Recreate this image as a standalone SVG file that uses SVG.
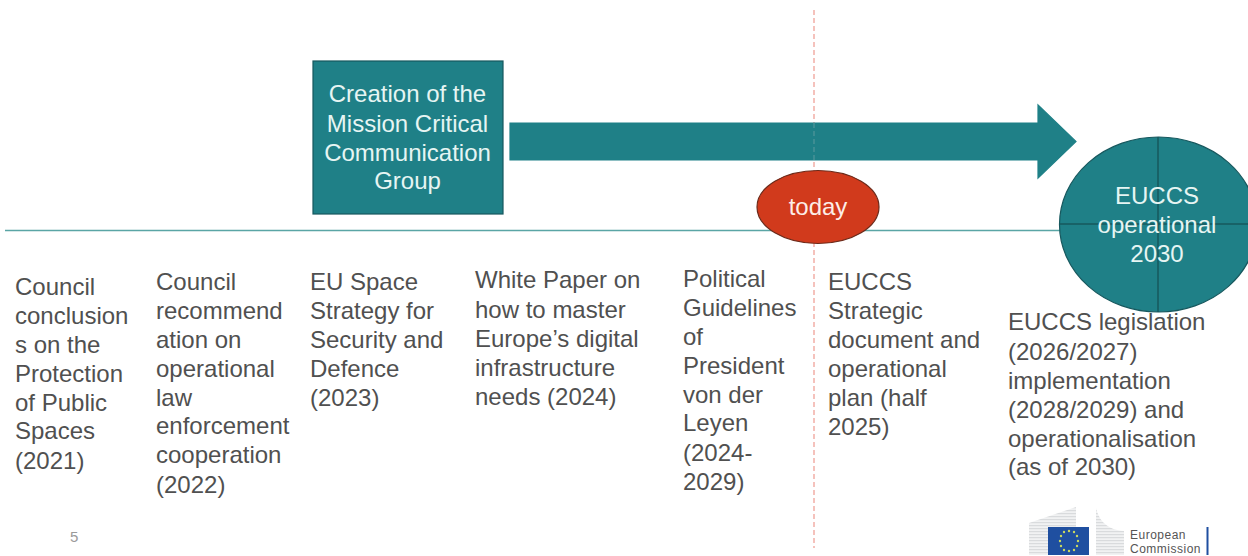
<svg xmlns="http://www.w3.org/2000/svg" width="1248" height="556" viewBox="0 0 1248 556">
<defs><pattern id="st" width="4" height="3" patternUnits="userSpaceOnUse"><rect width="4" height="3" fill="#f1f2f3"/><rect width="4" height="1.200" fill="#d9dbdd"/></pattern></defs>
<style>
text{font-family:"Liberation Sans",Arial,sans-serif}
.b{font-size:24px;fill:#505050}
.w{font-size:24px;fill:#e6f5f3;text-anchor:middle}
.t{fill:#1f8087;stroke:#17585e;stroke-width:1.2}
</style>
<rect width="1248" height="556" fill="#fff"/>
<g id="connectors">
<line x1="5" y1="230.500" x2="1060" y2="230.500" stroke="#5aa5a5" stroke-width="1.500"/>
<line x1="814" y1="10" x2="814" y2="548" stroke="#ee9a90" stroke-width="1.200" stroke-dasharray="5 3"/>
</g>
<g id="arrow"><path class="t" style="stroke:#1f8087" d="M510 123H1038V105L1076 141.500 1038 178V160H510Z"/></g>
<line x1="814" y1="123" x2="814" y2="160" stroke="#5d9a9e" stroke-width="1" stroke-dasharray="5 3"/>
<g id="mcc"><rect class="t" x="313" y="61" width="190" height="153"/>
<text class="w"><tspan x="407.500" y="102">Creation of the</tspan><tspan x="407.500" y="131.500">Mission Critical</tspan><tspan x="407.500" y="160.500">Communication</tspan><tspan x="407.500" y="189">Group</tspan></text></g>
<g id="today"><ellipse cx="818" cy="207" rx="61" ry="36.500" fill="#d13a1c" stroke="#6b2a1a" stroke-width="1.200"/>
<text x="818" y="215" class="w" style="fill:#fdeee8">today</text></g>
<g id="eucss"><ellipse class="t" cx="1158.500" cy="224.500" rx="99" ry="87.500"/>
<path d="M1158 137V312M1059 224H1248" fill="none" stroke="#17585e" stroke-width="1.500"/>
<text class="w"><tspan x="1157" y="204">EUCCS</tspan><tspan x="1157" y="233">operational</tspan><tspan x="1157" y="262">2030</tspan></text></g>
<g id="n2021"><text class="b"><tspan x="15" y="295">Council</tspan><tspan x="15" y="324">conclusion</tspan><tspan x="15" y="353">s on the</tspan><tspan x="15" y="381.500">Protection</tspan><tspan x="15" y="410.500">of Public</tspan><tspan x="15" y="439">Spaces</tspan><tspan x="15" y="469">(2021)</tspan></text></g>
<g id="n2022"><text class="b"><tspan x="156" y="290">Council</tspan><tspan x="156" y="319">recommend</tspan><tspan x="156" y="348">ation on</tspan><tspan x="156" y="377">operational</tspan><tspan x="156" y="406">law</tspan><tspan x="156" y="434">enforcement</tspan><tspan x="156" y="463">cooperation</tspan><tspan x="156" y="493">(2022)</tspan></text></g>
<g id="n2023"><text class="b"><tspan x="310" y="290">EU Space</tspan><tspan x="310" y="319">Strategy for</tspan><tspan x="310" y="348">Security and</tspan><tspan x="310" y="376.500">Defence</tspan><tspan x="310" y="405.500">(2023)</tspan></text></g>
<g id="n2024"><text class="b"><tspan x="475" y="288">White Paper on</tspan><tspan x="475" y="318">how to master</tspan><tspan x="475" y="347">Europe’s digital</tspan><tspan x="475" y="376">infrastructure</tspan><tspan x="475" y="405">needs (2024)</tspan></text></g>
<g id="nguide"><text class="b"><tspan x="683" y="286.500">Political</tspan><tspan x="683" y="315.500">Guidelines</tspan><tspan x="683" y="345">of</tspan><tspan x="683" y="373.500">President</tspan><tspan x="683" y="402.500">von der</tspan><tspan x="683" y="431">Leyen</tspan><tspan x="683" y="460.500">(2024-</tspan><tspan x="683" y="489.500">2029)</tspan></text></g>
<g id="nstrat"><text class="b"><tspan x="828" y="289.500">EUCCS</tspan><tspan x="828" y="318.500">Strategic</tspan><tspan x="828" y="347.500">document and</tspan><tspan x="828" y="376.500">operational</tspan><tspan x="828" y="405.500">plan (half</tspan><tspan x="828" y="434.500">2025)</tspan></text></g>
<g id="nleg"><text class="b"><tspan x="1008" y="330">EUCCS legislation</tspan><tspan x="1008" y="360">(2026/2027)</tspan><tspan x="1008" y="389">implementation</tspan><tspan x="1008" y="418">(2028/2029) and</tspan><tspan x="1008" y="446.500">operationalisation</tspan><tspan x="1008" y="475">(as of 2030)</tspan></text></g>
<text x="70" y="542" font-size="15" fill="#9a9a9a">5</text>
<g id="logo">
<path d="M1029 523 1076 507V555H1029Z" fill="url(#st)"/>
<path d="M1096 508C1100 525 1112 530 1124 531V555H1096Z" fill="url(#st)"/>
<rect x="1048" y="527" width="41" height="28" fill="#1f4fa0"/>
<g fill="#c9d860"><circle cx="1069" cy="531" r="1.200"/><circle cx="1074" cy="532" r="1.200"/><circle cx="1077" cy="536" r="1.200"/><circle cx="1078" cy="541" r="1.200"/><circle cx="1077" cy="546" r="1.200"/><circle cx="1074" cy="550" r="1.200"/><circle cx="1069" cy="551" r="1.200"/><circle cx="1064" cy="550" r="1.200"/><circle cx="1061" cy="546" r="1.200"/><circle cx="1060" cy="541" r="1.200"/><circle cx="1061" cy="536" r="1.200"/><circle cx="1064" cy="532" r="1.200"/></g>
<text font-size="12" fill="#555" letter-spacing="0.500"><tspan x="1130" y="539">European</tspan><tspan x="1130" y="553.200">Commission</tspan></text>
<line x1="1207.500" y1="527" x2="1207.500" y2="555" stroke="#1f4fa0" stroke-width="2"/>
</g>
</svg>
